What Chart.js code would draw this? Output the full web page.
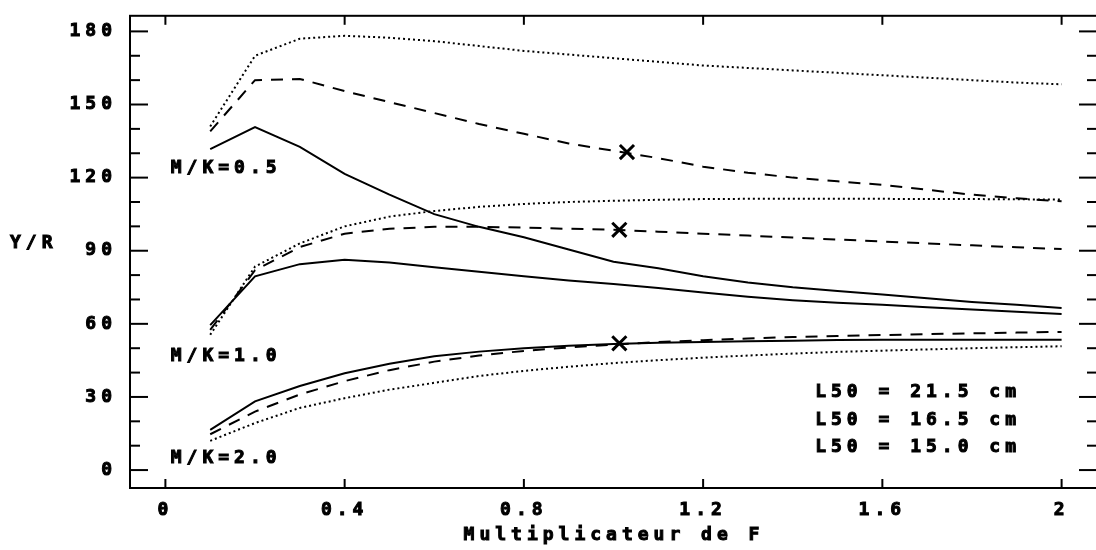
<!DOCTYPE html>
<html>
<head>
<meta charset="utf-8">
<script src="https://cdn.jsdelivr.net/npm/chart.js@4"></script>
<style>
  html, body { margin: 0; padding: 0; background: #fff; overflow: hidden; }
  #wrap { width: 1110px; height: 550px; }
</style>
</head>
<body>
<div id="wrap"><canvas id="graph"></canvas></div>
<script>
// multiplicateur de F
const fMult = [0.1, 0.2, 0.3, 0.4, 0.5, 0.6, 0.7, 0.8, 0.9, 1.0, 1.1, 1.2, 1.3, 1.4, 1.5, 1.6, 1.7, 1.8, 1.9, 2.0]

// M/K = 0.5
const mk05L215 = [131.7, 140.7, 132.6, 121.5, 113, 105, 99.8, 95.5, 90.5, 85.5, 82.8, 79.5, 77, 75, 73.5, 72, 70.5, 69, 67.8, 66.5]
const mk05L165 = [139, 160, 160.5, 155.5, 151, 146.5, 142, 138, 134, 131, 128, 124.5, 122, 120, 118.5, 117, 115, 113, 111.5, 110.3]
const mk05L150 = [141, 170, 177, 178.2, 177.4, 176, 174, 172, 170.5, 169, 167.5, 166, 165, 164, 163, 162, 161, 160, 159, 158.3]

// M/K = 1.0
const mk10L215 = [59.5, 79.5, 84.5, 86.3, 85.2, 83.2, 81.4, 79.5, 77.8, 76.3, 74.7, 72.9, 71.1, 69.7, 68.7, 67.8, 66.8, 65.9, 65, 64]
const mk10L165 = [57.5, 82, 91.5, 97, 99, 99.8, 99.8, 99.5, 99, 98.6, 97.8, 97, 96.2, 95.4, 94.6, 93.8, 93, 92.2, 91.4, 90.7]
const mk10L150 = [55.5, 83.5, 93, 100, 104, 106.3, 108, 109.2, 110, 110.5, 110.9, 111.2, 111.3, 111.3, 111.3, 111.3, 111.2, 111.2, 111.1, 111]

// M/K = 2.0
const mk20L215 = [16.5, 28.2, 34.5, 39.7, 43.6, 46.7, 48.6, 50, 51, 51.7, 52.2, 52.6, 52.9, 53.1, 53.4, 53.5, 53.5, 53.5, 53.5, 53.5]
const mk20L165 = [14.7, 24, 31, 36.5, 41, 44.5, 47, 48.9, 50.3, 51.5, 52.5, 53.3, 54, 54.6, 55, 55.4, 55.8, 56.1, 56.4, 56.7]
const mk20L150 = [12, 19.3, 25.5, 29.5, 33, 35.8, 38.6, 40.7, 42.4, 43.9, 45.1, 46.1, 47, 47.8, 48.5, 49, 49.5, 50, 50.4, 50.8]

// points marked with a cross
const crossF = [1.03, 1.013, 1.013]
const crossY = [130.5, 98.6, 52]

const xTicks = [0, 0.4, 0.8, 1.2, 1.6, 2]
const yTicks = [0, 10, 20, 30, 40, 50, 60, 70, 80, 90, 100, 110, 120, 130, 140, 150, 160, 170, 180]
const yLabelled = [0, 30, 60, 90, 120, 150, 180]

const groupLabels = ['M/K=0.5', 'M/K=1.0', 'M/K=2.0']
const legendLabels = ['L50 = 21.5 cm', 'L50 = 16.5 cm', 'L50 = 15.0 cm']

const FONT = '"DejaVu Sans Mono", "Liberation Mono", monospace'
const SPACING = '5px'

const pts = (ys) => fMult.map((f, i) => ({ x: f, y: ys[i] }))

const solid = (ys) => ({ data: pts(ys), borderColor: '#000', borderWidth: 2, pointRadius: 0, tension: 0 })
const dashed = (ys) => ({ ...solid(ys), borderDash: [12, 9] })
const dotted = (ys) => ({ ...solid(ys), borderDash: [2, 3] })

const tickFont = { family: FONT, size: 18, weight: 'bold' }

const frame = {
  id: 'frame',
  beforeLayout(chart) {
    chart.ctx.letterSpacing = SPACING
  },
  beforeDraw(chart) {
    chart.ctx.letterSpacing = SPACING
  },
  afterDraw(chart) {
    const { ctx, chartArea: a } = chart
    const x = chart.scales.x
    const y = chart.scales.y
    const line = (x1, y1, x2, y2) => {
      ctx.beginPath()
      ctx.moveTo(x1, y1)
      ctx.lineTo(x2, y2)
      ctx.stroke()
    }

    ctx.save()
    ctx.strokeStyle = '#000'
    ctx.lineWidth = 2
    ctx.strokeRect(a.left, a.top, a.right - a.left, a.bottom - a.top)

    // ticks point inward, on all four sides
    y.ticks.forEach((t) => {
      const py = y.getPixelForValue(t.value)
      const len = yLabelled.includes(t.value) ? 18 : 10
      line(a.left, py, a.left + len, py)
      line(a.right, py, a.right - len, py)
    })
    x.ticks.forEach((t) => {
      const px = x.getPixelForValue(t.value)
      line(px, a.top, px, a.top + 9)
      line(px, a.bottom, px, a.bottom - 9)
    })

    ctx.fillStyle = '#000'
    ctx.lineWidth = 1
    ctx.font = 'bold 18px ' + FONT
    ctx.letterSpacing = SPACING
    ctx.textBaseline = 'middle'
    const text = (s, px, py) => {
      ctx.fillText(s, px, py)
      ctx.strokeText(s, px, py)
    }

    ctx.textAlign = 'left'
    text('Y/R', 10, 243)

    const groupPos = [[0.012, 123.9], [0.012, 46.6], [0.012, 4.9]]
    groupLabels.forEach((s, i) => {
      text(s, x.getPixelForValue(groupPos[i][0]), y.getPixelForValue(groupPos[i][1]))
    })

    const legendPos = [[1.45, 31.9], [1.45, 20.4], [1.45, 9.4]]
    legendLabels.forEach((s, i) => {
      text(s, x.getPixelForValue(legendPos[i][0]), y.getPixelForValue(legendPos[i][1]))
    })

    ctx.textAlign = 'center'
    text('Multiplicateur de F', 614, 535)
    ctx.restore()
  },
}

new Chart(document.getElementById('graph'), {
  type: 'line',
  data: {
    datasets: [
      solid(mk05L215), dashed(mk05L165), dotted(mk05L150),
      solid(mk10L215), dashed(mk10L165), dotted(mk10L150),
      solid(mk20L215), dashed(mk20L165), dotted(mk20L150),
      {
        type: 'scatter',
        data: crossF.map((f, i) => ({ x: f, y: crossY[i] })),
        showLine: false,
        pointStyle: 'crossRot',
        pointRadius: 10,
        borderWidth: 3,
        borderColor: '#000',
      },
    ],
  },
  options: {
    responsive: true,
    maintainAspectRatio: false,
    animation: false,
    layout: { padding: { top: 0, right: 0, left: 0, bottom: 0 } },
    plugins: {
      legend: { display: false },
      tooltip: { enabled: false },
    },
    scales: {
      x: {
        type: 'linear',
        min: -0.079,
        max: 2.079,
        afterBuildTicks: (scale) => {
          scale.ticks = xTicks.map((v) => ({ value: v }))
        },
        afterFit: (scale) => {
          scale.height = 62
        },
        grid: { display: false },
        border: { display: false },
        ticks: {
          color: '#000',
          padding: 4,
          maxRotation: 0,
          font: tickFont,
          textStrokeColor: '#000',
          textStrokeWidth: 1,
          callback: (v) => String(+Number(v).toFixed(1)),
        },
      },
      y: {
        min: -7.36,
        max: 186.4,
        afterBuildTicks: (scale) => {
          scale.ticks = yTicks.map((v) => ({ value: v }))
        },
        afterFit: (scale) => {
          scale.width = 130
        },
        grid: { display: false },
        border: { display: false },
        ticks: {
          color: '#000',
          padding: 5,
          font: tickFont,
          textStrokeColor: '#000',
          textStrokeWidth: 1,
          callback: (v) => (yLabelled.includes(v) ? String(v) : ''),
        },
      },
    },
  },
  plugins: [frame],
})
</script>
</body>
</html>
